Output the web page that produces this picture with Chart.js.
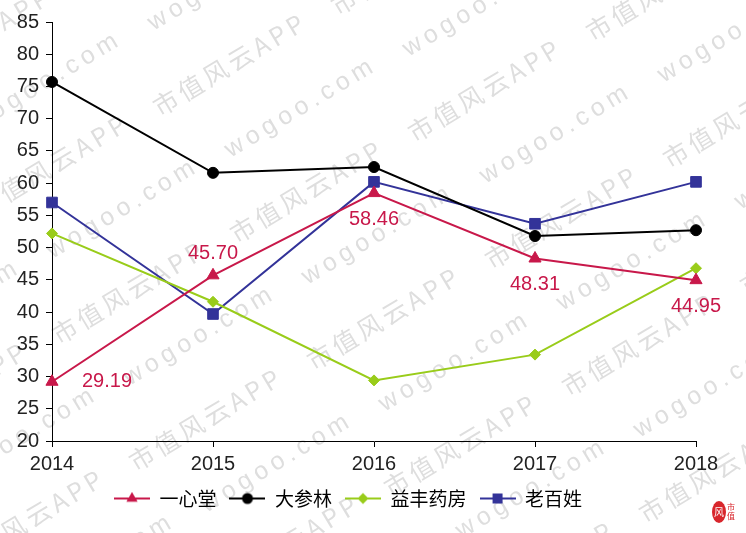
<!DOCTYPE html>
<html><head><meta charset="utf-8">
<script src="https://cdn.jsdelivr.net/npm/chart.js@4/dist/chart.umd.min.js"></script>
<style>html,body{margin:0;padding:0;background:#fff}#wrap{width:746px;height:533px}</style>
</head><body><div id="wrap"><canvas id="c" width="746" height="533"></canvas></div>
<script>
const categories = ['2014','2015','2016','2017','2018'];
const seriesNames = ['一心堂','大参林','益丰药房','老百姓'];
const yixintang = [29.19, 45.70, 58.46, 48.31, 44.95];
const dashenlin = [75.7, 61.6, 62.5, 51.8, 52.7];
const yifeng = [52.2, 41.6, 29.4, 33.4, 46.8];
const laobaixing = [57.0, 39.7, 60.2, 53.7, 60.2];
const yTicks = [20,25,30,35,40,45,50,55,60,65,70,75,80,85];
const labelPlacement = ['right','above','below','below','below'];
const watermarkTexts = ['市值风云APP','wogoo.com'];
const logoTexts = ['风','市','值'];

const colors = ['#C8184A','#000000','#99CC1A','#333399'];
const styles = ['triangle','circle','rectRot','rect'];
const radii = [7,5.5,5.5,7.5];

function legendIcon(i){
  const c = document.createElement('canvas');
  c.width = 36; c.height = 14;
  const g = c.getContext('2d');
  g.strokeStyle = colors[i]; g.lineWidth = 2;
  g.beginPath(); g.moveTo(0,7); g.lineTo(36,7); g.stroke();
  g.fillStyle = colors[i];
  const x=18,y=7;
  g.beginPath();
  if(styles[i]==='triangle'){ const r=6.5; g.moveTo(x,y-r); g.lineTo(x+r*0.87,y+r*0.5); g.lineTo(x-r*0.87,y+r*0.5); g.closePath(); }
  else if(styles[i]==='circle'){ g.arc(x,y,5.5,0,Math.PI*2); }
  else if(styles[i]==='rectRot'){ const r=5.5; g.moveTo(x,y-r); g.lineTo(x+r,y); g.lineTo(x,y+r); g.lineTo(x-r,y); g.closePath(); }
  else { g.rect(x-5,y-5,10,10); }
  g.fill();
  return c;
}

const watermarkPlugin = {
  id:'wm',
  beforeDraw(chart){
    const ctx = chart.ctx;
    ctx.save();
    ctx.fillStyle = '#fff';
    ctx.fillRect(0,0,chart.width,chart.height);
    ctx.fillStyle = '#dedede';
    ctx.textBaseline = 'middle';
    const ang = -31*Math.PI/180;
    const p0 = [240,236], v1 = [178,-101], v2 = [77,127];
    for(let i=-6;i<8;i++){
      for(let j=-6;j<8;j++){
        const px = p0[0]+i*v1[0]+j*v2[0], py = p0[1]+i*v1[1]+j*v2[1];
        if(px<-250||px>850||py<-150||py>750) continue;
        ctx.save();
        ctx.translate(px-8,py); ctx.rotate(ang);
        ctx.font = '25px "Noto Sans CJK SC", sans-serif';
        if('letterSpacing' in ctx) ctx.letterSpacing = '4px';
        ctx.fillText(watermarkTexts[0],0,0);
        ctx.restore();
        ctx.save();
        ctx.translate(px-13,py-84); ctx.rotate(ang);
        ctx.font = '25px "Liberation Sans", Arial, sans-serif';
        if('letterSpacing' in ctx) ctx.letterSpacing = '5px';
        ctx.fillText(watermarkTexts[1],0,0);
        ctx.restore();
      }
    }
    // small logo bottom-right
    ctx.fillStyle = '#D8262C';
    ctx.beginPath(); ctx.ellipse(719,512,7,11,0,0,Math.PI*2); ctx.fill();
    ctx.fillStyle = '#fff';
    ctx.font = '10px "Noto Sans CJK SC", sans-serif';
    ctx.textAlign = 'center';
    ctx.fillText(logoTexts[0],719,512);
    ctx.fillStyle = '#D8262C';
    ctx.font = '8px "Noto Sans CJK SC", sans-serif';
    ctx.fillText(logoTexts[1],731,507);
    ctx.fillText(logoTexts[2],731,516);
    ctx.restore();
  }
};

const dataLabelPlugin = {
  id:'dl',
  afterDatasetsDraw(chart){
    const ctx = chart.ctx;
    const meta = chart.getDatasetMeta(0);
    ctx.save();
    ctx.font = '20px "Liberation Sans", Arial, sans-serif';
    ctx.fillStyle = colors[0];
    ctx.textBaseline = 'middle';
    ctx.textAlign = 'center';
    meta.data.forEach((pt,i)=>{
      const v = yixintang[i].toFixed(2);
      let x = pt.x, y = pt.y;
      const p = labelPlacement[i];
      if(p==='right'){ x += 55; }
      else if(p==='above'){ y -= 22; }
      else { y += 26; }
      ctx.fillText(v, x, y);
    });
    ctx.restore();
  }
};

const seriesData = [yixintang, dashenlin, yifeng, laobaixing];
new Chart(document.getElementById('c'), {
  type:'line',
  data:{
    labels: categories,
    datasets: seriesNames.map((n,i)=>({
      label:n, data:seriesData[i],
      borderColor:colors[i], backgroundColor:colors[i],
      borderWidth:2, pointStyle:styles[i], pointRadius:radii[i],
      pointBackgroundColor:colors[i], pointBorderColor:colors[i], pointBorderWidth:1,
      tension:0, fill:false
    }))
  },
  options:{
    responsive:false, animation:false,
    layout:{padding:{top:22,right:50,left:0,bottom:15}},
    plugins:{
      tooltip:{enabled:false},
      legend:{
        position:'bottom',
        labels:{
          usePointStyle:true, pointStyleWidth:36, boxHeight:14, padding:13,
          font:{size:19, family:'"Noto Sans CJK SC", sans-serif'}, color:'#333',
          generateLabels(chart){
            return chart.data.datasets.map((d,i)=>({
              text:d.label, pointStyle:legendIcon(i), fillStyle:colors[i], strokeStyle:colors[i],
              lineWidth:0, hidden:false, datasetIndex:i
            }));
          }
        }
      }
    },
    scales:{
      x:{
        offset:false,
        grid:{display:true, drawOnChartArea:false, drawTicks:true, tickLength:6, color:'#000'},
        border:{display:true, color:'#000', width:1},
        ticks:{font:{size:20, family:'"Liberation Sans", Arial, sans-serif'}, color:'#222', padding:5, maxRotation:0},
        afterFit(s){ s.height = 35; }
      },
      y:{
        min:20, max:85,
        afterBuildTicks(s){ s.ticks = yTicks.map(v=>({value:v})); },
        grid:{display:true, drawOnChartArea:false, drawTicks:true, tickLength:6, color:'#000'},
        border:{display:true, color:'#000', width:1},
        ticks:{font:{size:20, family:'"Liberation Sans", Arial, sans-serif'}, color:'#222', padding:7},
        afterFit(s){ s.width = 52; }
      }
    }
  },
  plugins:[watermarkPlugin, dataLabelPlugin]
});
</script></body></html>
